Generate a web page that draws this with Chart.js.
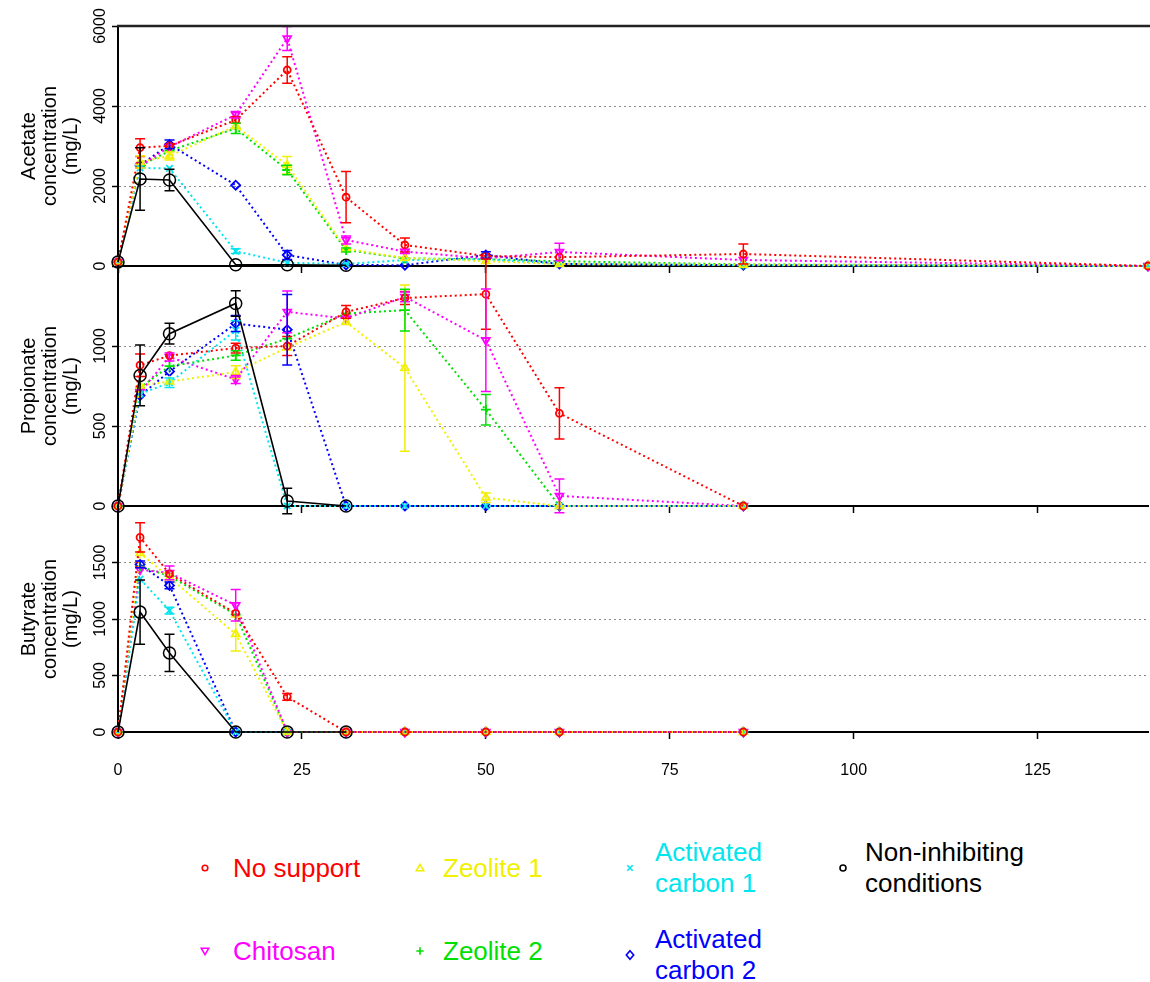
<!DOCTYPE html>
<html><head><meta charset="utf-8">
<script src="https://cdn.jsdelivr.net/npm/chart.js@4.4.1/dist/chart.umd.min.js"></script>
<style>
html,body{margin:0;padding:0;background:#fff;width:1150px;height:982px;overflow:hidden;font-family:'Liberation Sans',Arial,sans-serif;}
canvas{position:absolute;left:0;}
.lt{position:absolute;font-size:26px;line-height:31px;white-space:nowrap;}
.mk{position:absolute;width:14px;height:14px;}
</style></head><body>
<canvas id="c1" width="1150" height="276" style="top:0"></canvas>
<canvas id="c2" width="1150" height="270" style="top:246px"></canvas>
<canvas id="c3" width="1150" height="300" style="top:486px"></canvas>
<div id="legend"></div>
<script>
// ---- data ----
const days = [0, 3, 7, 16, 23, 31, 39, 50, 60, 85, 140];
const xTicks = [0, 25, 50, 75, 100, 125];
const acetateTicks = [0, 2000, 4000, 6000];
const propionateTicks = [0, 500, 1000];
const butyrateTicks = [0, 500, 1000, 1500];
const seriesNames = ['No support', 'Zeolite 1', 'Activated carbon 1', 'Chitosan', 'Zeolite 2', 'Activated carbon 2', 'Non-inhibiting conditions'];

// Acetate (mg/L)
const acetateNoSupport   = [100, 2960, 3000, 3650, 4900, 1720, 525, 250, 220, 300, 0];
const acetateZeolite1    = [100, 2600, 2750, 3500, 2520, 430, 200, 120, 50, 30, 0];
const acetateCarbon1     = [100, 2450, 2440, 370, 80, 50, 150, 170, 50, 20, 0];
const acetateChitosan    = [100, 2500, 2980, 3780, 5690, 650, 360, 190, 350, 150, 0];
const acetateZeolite2    = [100, 2500, 2880, 3440, 2400, 400, 190, 170, 120, 40, 0];
const acetateCarbon2     = [100, 2520, 3040, 2020, 275, 25, 20, 275, 50, 20, 0];
const acetateControl     = [100, 2175, 2150, 30, 30, 20, null, null, null, null, null];
const acetateNoSupportErr = [0, 220, 0, 80, 330, 640, 175, 0, 0, 250, 0];
const acetateZeolite1Err  = [0, 150, 100, 0, 220, 0, 0, 0, 0, 0, 0];
const acetateCarbon1Err   = [0, 0, 0, 60, 0, 0, 0, 0, 0, 0, 0];
const acetateChitosanErr  = [0, 0, 0, 80, 300, 100, 50, 0, 220, 0, 0];
const acetateZeolite2Err  = [0, 0, 0, 130, 120, 50, 0, 0, 0, 0, 0];
const acetateCarbon2Err   = [0, 0, 110, 0, 110, 0, 0, 80, 0, 0, 0];
const acetateControlErr   = [0, 780, 270, 0, 0, 0, 0, 0, 0, 0, 0];

// Propionate (mg/L)
const propionateNoSupport = [0, 880, 940, 987, 1000, 1213, 1300, 1324, 579, 0, null];
const propionateZeolite1  = [0, 753, 778, 837, 990, 1150, 862, 52, 0, 0, null];
const propionateCarbon1   = [0, 700, 770, 1098, 0, 0, 0, 0, 0, 0, null];
const propionateChitosan  = [0, 711, 931, 791, 1213, 1172, 1307, 1036, 63, 0, null];
const propionateZeolite2  = [0, 740, 874, 941, 1046, 1203, 1224, 602, 0, 0, null];
const propionateCarbon2   = [0, 690, 841, 1140, 1102, 0, 0, 0, 0, 0, null];
const propionateControl   = [0, 816, 1077, 1266, 31, 0, null, null, null, null, null];
const propionateNoSupportErr = [0, 70, 0, 30, 60, 40, 40, 220, 160, 0, 0];
const propionateZeolite1Err  = [0, 0, 0, 40, 0, 0, 520, 30, 0, 0, 0];
const propionateCarbon1Err   = [0, 0, 30, 60, 0, 0, 0, 0, 0, 0, 0];
const propionateChitosanErr  = [0, 0, 25, 25, 130, 0, 30, 320, 105, 0, 0];
const propionateZeolite2Err  = [0, 0, 0, 30, 0, 0, 130, 95, 0, 0, 0];
const propionateCarbon2Err   = [0, 0, 0, 50, 220, 0, 0, 0, 0, 0, 0];
const propionateControlErr   = [0, 190, 65, 80, 80, 0, 0, 0, 0, 0, 0];

// Butyrate (mg/L)
const butyrateNoSupport = [0, 1722, 1400, 1050, 311, 0, 0, 0, 0, 0, null];
const butyrateZeolite1  = [0, 1583, 1367, 867, 0, 0, 0, 0, 0, 0, null];
const butyrateCarbon1   = [0, 1353, 1075, 0, 0, 0, 0, 0, 0, 0, null];
const butyrateChitosan  = [0, 1436, 1408, 1122, 0, 0, 0, 0, 0, 0, null];
const butyrateZeolite2  = [0, 1464, 1380, 1039, 0, 0, 0, 0, 0, 0, null];
const butyrateCarbon2   = [0, 1483, 1297, 0, 0, 0, 0, 0, 0, 0, null];
const butyrateControl   = [0, 1061, 700, 0, 0, 0, null, null, null, null, null];
const butyrateNoSupportErr = [0, 130, 0, 0, 30, 0, 0, 0, 0, 0, 0];
const butyrateZeolite1Err  = [0, 0, 0, 150, 0, 0, 0, 0, 0, 0, 0];
const butyrateCarbon1Err   = [0, 0, 30, 0, 0, 0, 0, 0, 0, 0, 0];
const butyrateChitosanErr  = [0, 0, 60, 140, 0, 0, 0, 0, 0, 0, 0];
const butyrateZeolite2Err  = [0, 0, 0, 0, 0, 0, 0, 0, 0, 0, 0];
const butyrateCarbon2Err   = [0, 30, 30, 0, 0, 0, 0, 0, 0, 0, 0];
const butyrateControlErr   = [0, 285, 165, 0, 0, 0, 0, 0, 0, 0, 0];

// ---- styles ----
const styles = [
  {color: '#ff0000', point: 'circle',   rot: 0,   r: 3.5},
  {color: '#f0f000', point: 'triangle', rot: 0,   r: 4.5},
  {color: '#00e5ee', point: 'crossRot', rot: 0,   r: 4.5},
  {color: '#ff00ff', point: 'triangle', rot: 180, r: 4.5},
  {color: '#00e000', point: 'cross',    rot: 0,   r: 5},
  {color: '#0000ff', point: 'rectRot',  rot: 0,   r: 4.5},
  {color: '#000000', point: 'circle',   rot: 0,   r: 6, solid: true}
];
const FONT = "'Liberation Sans', Arial, sans-serif";

function makeDatasets(vals, errs) {
  return vals.map((v, i) => {
    const s = styles[i];
    return {
      label: seriesNames[i],
      data: days.map((d, j) => ({x: d, y: v[j]})),
      errors: errs[i],
      borderColor: s.color,
      borderWidth: s.solid ? 1.6 : 2,
      borderDash: s.solid ? [] : [2, 3],
      pointStyle: s.point,
      pointRotation: s.rot,
      pointRadius: s.r,
      pointBorderWidth: s.solid ? 1.5 : 1.8,
      pointBorderColor: s.color,
      pointBackgroundColor: 'rgba(0,0,0,0)',
      fill: false, tension: 0, clip: false, spanGaps: false,
      order: s.solid ? -1 : i
    };
  });
}

const errorBars = {
  id: 'errorBars',
  afterDatasetsDraw(chart) {
    const ctx = chart.ctx, xs = chart.scales.x, ys = chart.scales.y;
    chart.data.datasets.forEach(ds => {
      ctx.save();
      ctx.strokeStyle = ds.borderColor; ctx.lineWidth = 1.5; ctx.setLineDash([]);
      ds.data.forEach((p, j) => {
        const e = ds.errors[j];
        if (!e || p.y == null) return;
        const x = xs.getPixelForValue(p.x);
        const y1 = ys.getPixelForValue(p.y - e), y2 = ys.getPixelForValue(p.y + e);
        ctx.beginPath();
        ctx.moveTo(x, y1); ctx.lineTo(x, y2);
        ctx.moveTo(x - 5, y1); ctx.lineTo(x + 5, y1);
        ctx.moveTo(x - 5, y2); ctx.lineTo(x + 5, y2);
        ctx.stroke();
      });
      ctx.restore();
    });
  }
};

const yLabels = {
  id: 'yLabels',
  afterDraw(chart) {
    const s = chart.scales.y, ctx = chart.ctx;
    ctx.save();
    ctx.fillStyle = '#000'; ctx.font = '16px ' + FONT;
    ctx.textAlign = 'center'; ctx.textBaseline = 'middle';
    s.ticks.forEach(t => {
      const y = s.getPixelForValue(t.value);
      ctx.save(); ctx.translate(101, y); ctx.rotate(-Math.PI / 2);
      ctx.fillText(String(t.value), 0, 0);
      ctx.restore();
    });
    if (chart.options.topBorder) {
      ctx.strokeStyle = '#222'; ctx.lineWidth = 2.5;
      ctx.beginPath();
      ctx.moveTo(chart.chartArea.left - 1, chart.chartArea.top);
      ctx.lineTo(chart.chartArea.right + 2, chart.chartArea.top);
      ctx.stroke();
    }
    ctx.restore();
  }
};

function makeChart(id, vals, errs, ymax, yTicks, title, opts) {
  const isBottom = opts.bottom;
  return new Chart(document.getElementById(id), {
    type: 'line',
    data: {datasets: makeDatasets(vals, errs)},
    options: {
      responsive: false, animation: false, events: [],
      topBorder: opts.top,
      layout: {autoPadding: false, padding: {top: opts.padTop, right: 2, bottom: isBottom ? 0 : 10, left: 0}},
      plugins: {legend: {display: false}, tooltip: {enabled: false}},
      scales: {
        x: {
          type: 'linear', min: 0, max: 140,
          afterBuildTicks: s => { s.ticks = xTicks.map(v => ({value: v})); },
          afterFit: s => { s.height = isBottom ? 54 : 0; s.paddingLeft = 0; s.paddingRight = 0; },
          grid: {display: isBottom, drawOnChartArea: false, tickLength: 7, tickWidth: 1.5, tickColor: '#000'},
          border: {color: '#000', width: 2},
          ticks: {display: isBottom, color: '#000', font: {size: 16, family: FONT}, padding: 22, maxRotation: 0}
        },
        y: {
          min: 0, max: ymax,
          afterBuildTicks: s => { s.ticks = yTicks.map(v => ({value: v})); },
          afterFit: s => { s.width = 118; },
          grid: {
            color: c => (c.tick && (c.tick.value === 0 || c.tick.value === ymax)) ? 'rgba(0,0,0,0)' : '#8c8c8c',
            lineWidth: 1, tickLength: 6, tickWidth: 1.5, tickColor: '#000'
          },
          border: {color: '#000', width: 2, dash: [2, 3]},
          ticks: {display: false},
          title: {display: true, text: title, color: '#000', font: {size: 20, family: FONT, lineHeight: 1.05}, padding: {top: 19, bottom: 0}}
        }
      }
    },
    plugins: [errorBars, yLabels]
  });
}

makeChart('c1',
  [acetateNoSupport, acetateZeolite1, acetateCarbon1, acetateChitosan, acetateZeolite2, acetateCarbon2, acetateControl],
  [acetateNoSupportErr, acetateZeolite1Err, acetateCarbon1Err, acetateChitosanErr, acetateZeolite2Err, acetateCarbon2Err, acetateControlErr],
  6000, acetateTicks, ['Acetate', 'concentration', '(mg/L)'], {padTop: 26, top: true});
makeChart('c2',
  [propionateNoSupport, propionateZeolite1, propionateCarbon1, propionateChitosan, propionateZeolite2, propionateCarbon2, propionateControl],
  [propionateNoSupportErr, propionateZeolite1Err, propionateCarbon1Err, propionateChitosanErr, propionateZeolite2Err, propionateCarbon2Err, propionateControlErr],
  1500, propionateTicks, ['Propionate', 'concentration', '(mg/L)'], {padTop: 20});
makeChart('c3',
  [butyrateNoSupport, butyrateZeolite1, butyrateCarbon1, butyrateChitosan, butyrateZeolite2, butyrateCarbon2, butyrateControl],
  [butyrateNoSupportErr, butyrateZeolite1Err, butyrateCarbon1Err, butyrateChitosanErr, butyrateZeolite2Err, butyrateCarbon2Err, butyrateControlErr],
  2000, butyrateTicks, ['Butyrate', 'concentration', '(mg/L)'], {padTop: 20, bottom: true});

// ---- legend (HTML) ----
const legendItems = [
  {i: 0, x: 205, tx: 233, y: 868, text: ['No support']},
  {i: 1, x: 420, tx: 443, y: 868, text: ['Zeolite 1']},
  {i: 2, x: 630, tx: 655, y: 868, text: ['Activated', 'carbon 1']},
  {i: 6, x: 843, tx: 865, y: 868, text: ['Non-inhibiting', 'conditions']},
  {i: 3, x: 205, tx: 233, y: 951, text: ['Chitosan']},
  {i: 4, x: 420, tx: 443, y: 951, text: ['Zeolite 2']},
  {i: 5, x: 630, tx: 655, y: 955, text: ['Activated', 'carbon 2']}
];
function markerSvg(i) {
  const c = styles[i].color;
  const p = 'fill="none" stroke="' + c + '" stroke-width="1.6"';
  switch (i) {
    case 0: return '<circle cx="7" cy="7" r="2.8" ' + p + '/>';
    case 1: return '<polygon points="7,3.3 10.7,9.7 3.3,9.7" ' + p + '/>';
    case 2: return '<path d="M4.3 4.3 L9.7 9.7 M9.7 4.3 L4.3 9.7" ' + p + '/>';
    case 3: return '<polygon points="7,10.7 10.7,4.3 3.3,4.3" ' + p + '/>';
    case 4: return '<path d="M7 3.3 L7 10.7 M3.3 7 L10.7 7" ' + p + '/>';
    case 5: return '<polygon points="7,2.8 10.7,7 7,11.2 3.3,7" ' + p + '/>';
    default: return '<circle cx="7" cy="7" r="3" ' + p + '/>';
  }
}
const leg = document.getElementById('legend');
legendItems.forEach(it => {
  const m = document.createElement('div');
  m.className = 'mk';
  m.style.left = (it.x - 7) + 'px'; m.style.top = (it.y - 7) + 'px';
  m.innerHTML = '<svg width="14" height="14" xmlns="http://www.w3.org/2000/svg">' + markerSvg(it.i) + '</svg>';
  leg.appendChild(m);
  const t = document.createElement('div');
  t.className = 'lt';
  t.style.left = it.tx + 'px';
  t.style.top = (it.y - it.text.length * 31 / 2) + 'px';
  t.style.color = styles[it.i].color;
  t.innerHTML = it.text.join('<br>');
  leg.appendChild(t);
});
</script>
</body></html>
